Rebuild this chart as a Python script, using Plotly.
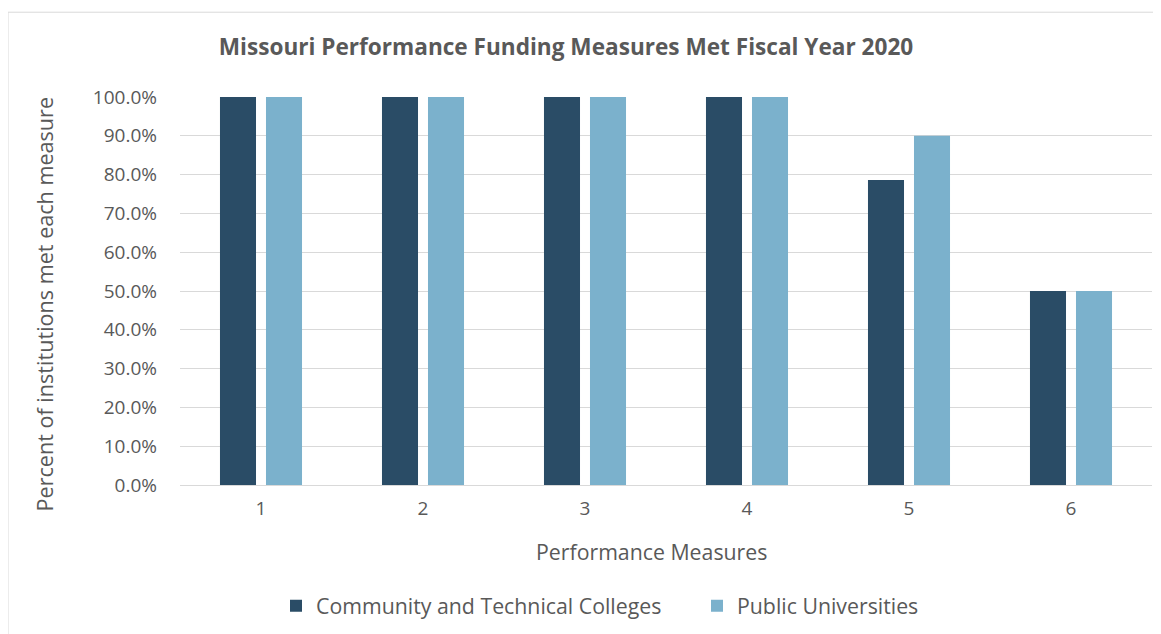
import plotly.graph_objects as go

categories = ["1", "2", "3", "4", "5", "6"]
community = [1.0, 1.0, 1.0, 1.0, 0.786, 0.5]
public = [1.0, 1.0, 1.0, 1.0, 0.9, 0.5]
series_names = ["Community and Technical Colleges", "Public Universities"]
tick_vals = [i / 10 for i in range(11)]
tick_text = [f"{i*10:.1f}%" for i in range(11)]

FONT = "Open Sans"
GRAY = "#595959"

# page has an 8px body margin; target coordinates are given in page pixels
OFF = 8
W, H = 1161 - OFF, 634 - OFF
L, R, T, B = 180 - OFF, 9, 97 - OFF, 634 - 486
pw = W - L - R
ph = H - T - B


def px(x):
    return (x - OFF - L) / pw


def py(y):
    return (H - B - (y - OFF)) / ph


fig = go.Figure()
fig.add_trace(go.Bar(x=categories, y=community, name=series_names[0],
                     marker=dict(color="#2A4C66", line=dict(width=0)),
                     legend="legend"))
fig.add_trace(go.Bar(x=categories, y=public, name=series_names[1],
                     marker=dict(color="#7BB1CC", line=dict(width=0)),
                     legend="legend2"))

legend_font = dict(family=FONT, size=21.3, color=GRAY)

fig.update_layout(
    width=W, height=H,
    margin=dict(l=L, r=R, t=T, b=B),
    paper_bgcolor="white", plot_bgcolor="white",
    barmode="group", bargap=0.432, bargroupgap=0.217,
    font=dict(family=FONT, color=GRAY, size=19),
    title=dict(text="<b>Missouri Performance Funding Measures Met Fiscal Year 2020</b>",
               x=(566 - OFF) / W, y=1 - (47 - OFF) / H, xanchor="center", yanchor="middle",
               xref="container", yref="container",
               font=dict(family=FONT, size=22.6, color=GRAY)),
    showlegend=True,
    legend=dict(orientation="h", x=px(276), y=py(606), xanchor="left", yanchor="middle",
                font=legend_font, itemwidth=30, bgcolor="rgba(0,0,0,0)"),
    legend2=dict(orientation="h", x=px(697), y=py(606), xanchor="left", yanchor="middle",
                 font=legend_font, itemwidth=30, bgcolor="rgba(0,0,0,0)"),
    xaxis=dict(showgrid=False, ticks="", showline=False, zeroline=False,
               tickfont=dict(size=19, color=GRAY), ticklabelstandoff=10),
    yaxis=dict(range=[0, 1.0001], tickvals=tick_vals, ticktext=tick_text,
               showgrid=True, gridcolor="#D9D9D9", gridwidth=1,
               zeroline=True, zerolinecolor="#D9D9D9", zerolinewidth=1,
               showline=False, ticks="", tickfont=dict(size=19, color=GRAY),
               ticklabelstandoff=22),
    annotations=[
        dict(text="Performance Measures", x=px(651), y=py(553), xref="paper", yref="paper",
             showarrow=False, xanchor="center", yanchor="middle",
             font=dict(family=FONT, size=21.3, color=GRAY)),
        dict(text="Percent of institutions met each measure", x=px(44), y=py(305),
             xref="paper", yref="paper", showarrow=False, textangle=-90,
             xanchor="center", yanchor="middle",
             font=dict(family=FONT, size=21.6, color=GRAY)),
    ],
    shapes=[dict(type="rect", xref="paper", yref="paper",
                 x0=px(8), x1=px(1161 + 30), y0=py(634 + 30), y1=py(12),
                 line=dict(color="#D9D9D9", width=1), layer="below")],
)

fig.write_html("out.html")
